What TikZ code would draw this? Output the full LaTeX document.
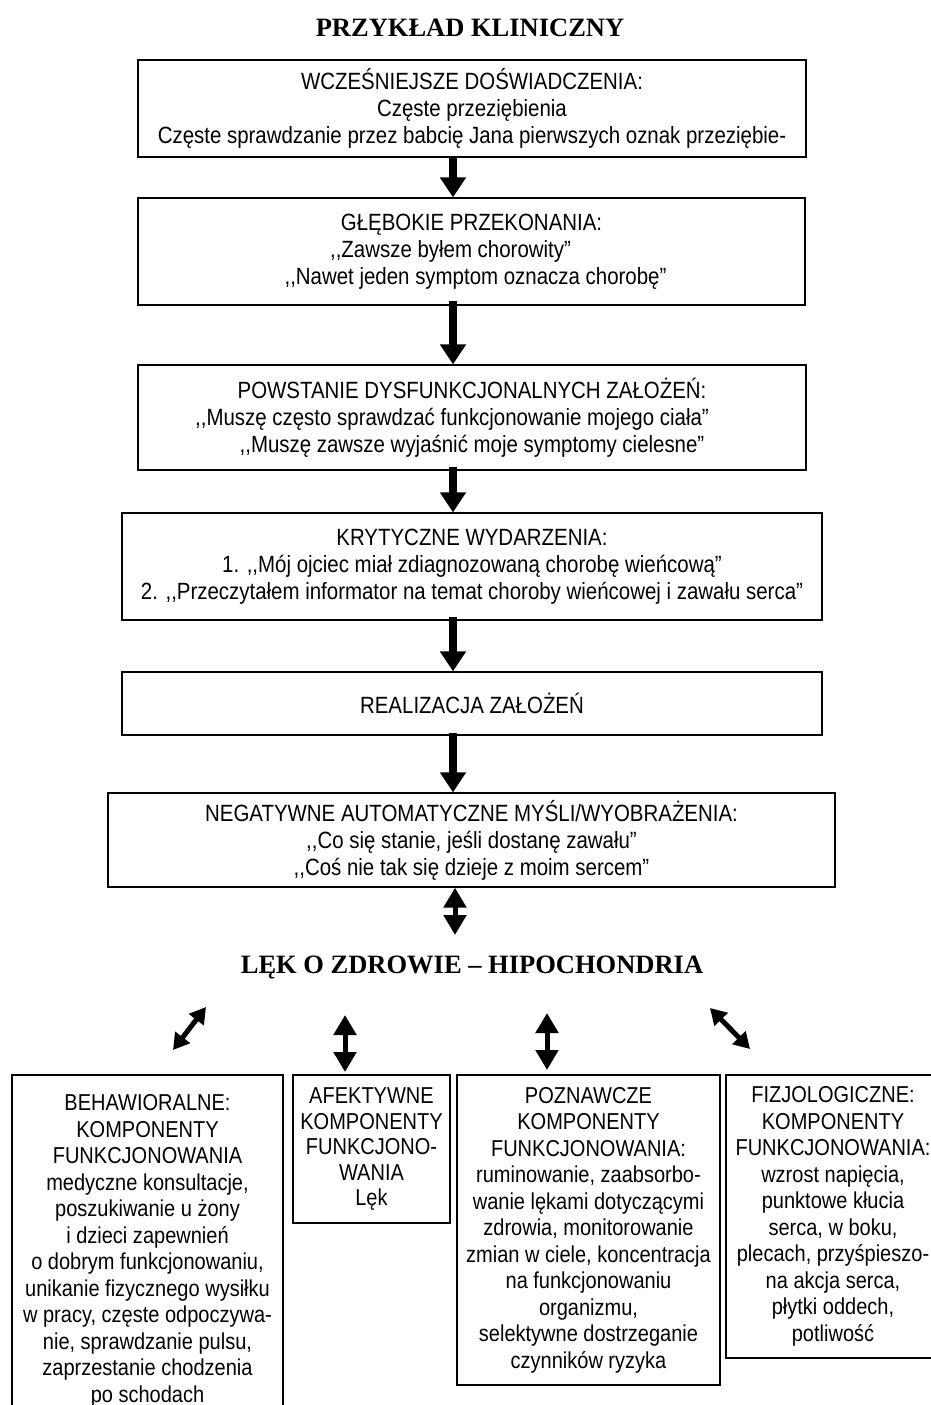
\documentclass[tikz,border=0pt]{standalone}
\usepackage{fontspec}
\setmainfont{Liberation Sans}[FakeStretch=0.87]
\newfontfamily\headfont{Liberation Serif}
\usetikzlibrary{arrows.meta}
\tikzset{
  box/.style={draw, line width=1.3pt, align=center, inner sep=0pt,
    font=\fontsize{23.5}{27}\selectfont},
  lowbox/.style={box, font=\fontsize{23}{26.5}\selectfont},
  heading/.style={font=\headfont\bfseries\fontsize{26.5}{30}\selectfont, inner sep=0pt},
  blockarrow/.style={line width=8pt, -{Triangle[width=25pt,length=20pt]}},
  dblarrow/.style={line width=5pt, {Triangle[width=22pt,length=20pt]}-{Triangle[width=22pt,length=20pt]}},
  diagarrow/.style={line width=5pt, {Triangle[width=18pt,length=16pt]}-{Triangle[width=18pt,length=16pt]}}
}
\begin{document}
\begin{tikzpicture}[x=1pt,y=-1pt]
\useasboundingbox (0,0) rectangle (930,1405);
\fill[white] (0,0) rectangle (930,1405);

\node[heading] (t1) at (470,28) {PRZYKŁAD KLINICZNY};

\node[box, minimum width=668pt, minimum height=97pt] (b1) at (472,108.5)
  {WCZEŚNIEJSZE DOŚWIADCZENIA:\\Częste przeziębienia\\Częste sprawdzanie przez babcię Jana pierwszych oznak przeziębie-};
\node[box, minimum width=667pt, minimum height=107pt] (b2) at (471.5,251.5)
  {GŁĘBOKIE PRZEKONANIA:\\\hspace*{-42pt},{},Zawsze byłem chorowity”\\\hspace*{8pt},{},Nawet jeden symptom oznacza chorobę”};
\node[box, minimum width=668pt, minimum height=105pt] (b3) at (472,417.5)
  {POWSTANIE DYSFUNKCJONALNYCH ZAŁOŻEŃ:\\\hspace*{-40pt},{},Muszę często sprawdzać funkcjonowanie mojego ciała”\\,{},Muszę zawsze wyjaśnić moje symptomy cielesne”};
\node[box, minimum width=700pt, minimum height=107pt] (b4) at (472,566.5)
  {KRYTYCZNE WYDARZENIA:\\1. ,{},Mój ojciec miał zdiagnozowaną chorobę wieńcową”\\2. ,{},Przeczytałem informator na temat choroby wieńcowej i zawału serca”};
\node[box, minimum width=700pt, minimum height=63pt] (b5) at (472,703.5)
  {REALIZACJA ZAŁOŻEŃ};
\node[box, minimum width=727pt, minimum height=94pt] (b6) at (471.5,840)
  {NEGATYWNE AUTOMATYCZNE MYŚLI/WYOBRAŻENIA:\\,{},Co się stanie, jeśli dostanę zawału”\\,{},Coś nie tak się dzieje z moim sercem”};

\node[heading] (t2) at (472,967) {LĘK O ZDROWIE – HIPOCHONDRIA};

\node[lowbox, minimum width=271pt, minimum height=352pt] (b7) at (147.5,1251)
  {BEHAWIORALNE:\\KOMPONENTY\\FUNKCJONOWANIA\\medyczne konsultacje,\\poszukiwanie u żony\\i dzieci zapewnień\\o dobrym funkcjonowaniu,\\unikanie fizycznego wysiłku\\w pracy, częste odpoczywa-\\nie, sprawdzanie pulsu,\\zaprzestanie chodzenia\\po schodach};
\node[lowbox, minimum width=157pt, minimum height=148pt, font=\fontsize{23}{25.5}\selectfont] (b8) at (371.5,1149)
  {AFEKTYWNE\\KOMPONENTY\\FUNKCJONO-\\WANIA\\Lęk};
\node[lowbox, minimum width=263pt, minimum height=310pt] (b9) at (588.5,1230)
  {POZNAWCZE\\KOMPONENTY\\FUNKCJONOWANIA:\\ruminowanie, zaabsorbo-\\wanie lękami dotyczącymi\\zdrowia, monitorowanie\\zmian w ciele, koncentracja\\na funkcjonowaniu\\organizmu,\\selektywne dostrzeganie\\czynników ryzyka};
\node[lowbox, minimum width=214pt, minimum height=283pt] (b10) at (833,1216.5)
  {FIZJOLOGICZNE:\\KOMPONENTY\\FUNKCJONOWANIA:\\wzrost napięcia,\\punktowe kłucia\\serca, w boku,\\plecach, przyśpieszo-\\na akcja serca,\\płytki oddech,\\potliwość};

% vertical block arrows
\coordinate (ax) at (453,0);
\draw[blockarrow] (b1.south -| ax) -- (b2.north -| ax);
\draw[blockarrow] ([yshift=5pt]b2.south -| ax) -- (b3.north -| ax);
\draw[blockarrow] ([yshift=4pt]b3.south -| ax) -- (b4.north -| ax);
\draw[blockarrow] ([yshift=4pt]b4.south -| ax) -- (b5.north -| ax);
\draw[blockarrow] ([yshift=3pt]b5.south -| ax) -- (b6.north -| ax);
\coordinate (dx) at (455,0);
\coordinate (d2) at (455,935);
\draw[dblarrow] (b6.south -| dx) -- (d2);

% bottom arrows
\coordinate (l1) at (206,1007);
\coordinate (l2) at (173,1050);
\coordinate (v1) at (345,1015);
\coordinate (v2) at (345,1072);
\coordinate (w1) at (547,1013);
\coordinate (w2) at (547,1070);
\coordinate (r1) at (710,1008);
\coordinate (r2) at (750,1049);
\draw[diagarrow] (l1) -- (l2);
\draw[dblarrow] (v1) -- (v2);
\draw[dblarrow] (w1) -- (w2);
\draw[diagarrow] (r1) -- (r2);
\end{tikzpicture}
\end{document}
